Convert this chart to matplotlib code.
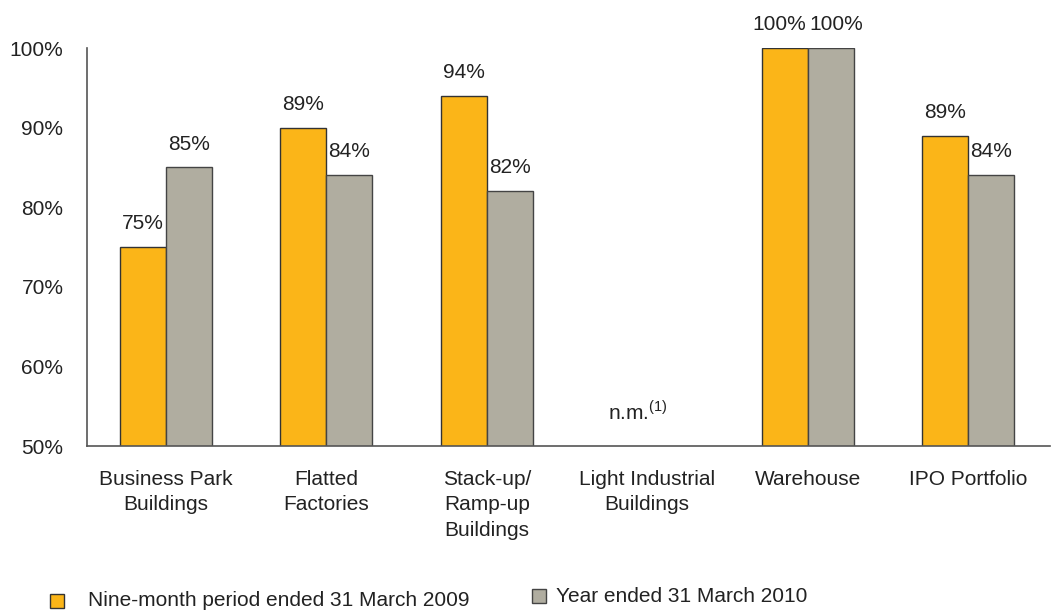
import matplotlib.pyplot as plt
from matplotlib.patches import Rectangle
import numpy as np

plt.rcParams['font.family'] = ['Liberation Sans', 'DejaVu Sans']
plt.rcParams['mathtext.fontset'] = 'custom'
plt.rcParams['mathtext.rm'] = 'Liberation Sans'

categories = ['Business Park\nBuildings', 'Flatted\nFactories', 'Stack-up/\nRamp-up\nBuildings',
              'Light Industrial\nBuildings', 'Warehouse', 'IPO Portfolio']
fy2009 = [75, 90, 94, np.nan, 100, 89]
fy2010 = [85, 84, 82, np.nan, 100, 84]
labels2009 = ['75%', '89%', '94%', '', '100%', '89%']
labels2010 = ['85%', '84%', '82%', '', '100%', '84%']
series_names = ['Nine-month period ended 31 March 2009', 'Year ended 31 March 2010']

orange = '#FBB518'
grey = '#B0ADA0'
txt = '#222222'
fs = 15

fig = plt.figure(figsize=(10.52, 6.10), dpi=100)
ax = fig.add_axes([87 / 1052, 1 - 446 / 610, (1050 - 87) / 1052, (446 - 48) / 610])

x = np.arange(len(categories))
w = 0.287
ax.bar(x - w / 2, fy2009, w, color=orange, edgecolor='#333333', linewidth=1)
ax.bar(x + w / 2, fy2010, w, color=grey, edgecolor='#444444', linewidth=1)

# labels of the tall warehouse pair are pushed apart so they don't touch
for i, (v1, v2, s1, s2) in enumerate(zip(fy2009, fy2010, labels2009, labels2010)):
    nudge = 4 if v1 == v2 else 0
    if s1:
        ax.annotate(s1, (x[i] - w / 2, v1), xytext=(-nudge, 10), textcoords='offset points',
                    ha='center', va='bottom', fontsize=fs, color=txt)
    if s2:
        ax.annotate(s2, (x[i] + w / 2, v2), xytext=(nudge, 10), textcoords='offset points',
                    ha='center', va='bottom', fontsize=fs, color=txt)

ax.text(x[3] - 0.06, 54.3, 'n.m.$^{(1)}$', ha='center', va='center', fontsize=fs, color=txt)

ax.set_xlim(-0.4925, 5.511)
ax.set_ylim(50, 100)
ax.set_yticks([50, 60, 70, 80, 90, 100])
ax.set_yticklabels(['50%', '60%', '70%', '80%', '90%', '100%'])
ax.set_xticks(x)
ax.set_xticklabels(categories, linespacing=1.45)
ax.tick_params(axis='both', length=0, labelsize=fs, colors=txt)
ax.tick_params(axis='y', pad=17)
ax.tick_params(axis='x', pad=17)
for sp in ['top', 'right']:
    ax.spines[sp].set_visible(False)
for sp in ['left', 'bottom']:
    ax.spines[sp].set_color('#555555')
    ax.spines[sp].set_linewidth(1.2)

# legend drawn by hand
fig.patches.append(Rectangle((50 / 1052, 1 - 608 / 610), 14 / 1052, 14 / 610,
                             transform=fig.transFigure, facecolor=orange, edgecolor='#333333', lw=1))
fig.text(88 / 1052, 1 - 601 / 610, series_names[0], fontsize=fs, color=txt, va='center')
fig.patches.append(Rectangle((532 / 1052, 1 - 603 / 610), 14 / 1052, 14 / 610,
                             transform=fig.transFigure, facecolor=grey, edgecolor='#444444', lw=1))
fig.text(556 / 1052, 1 - 596 / 610, series_names[1], fontsize=fs, color=txt, va='center')

fig.savefig('out.png', dpi=100)
